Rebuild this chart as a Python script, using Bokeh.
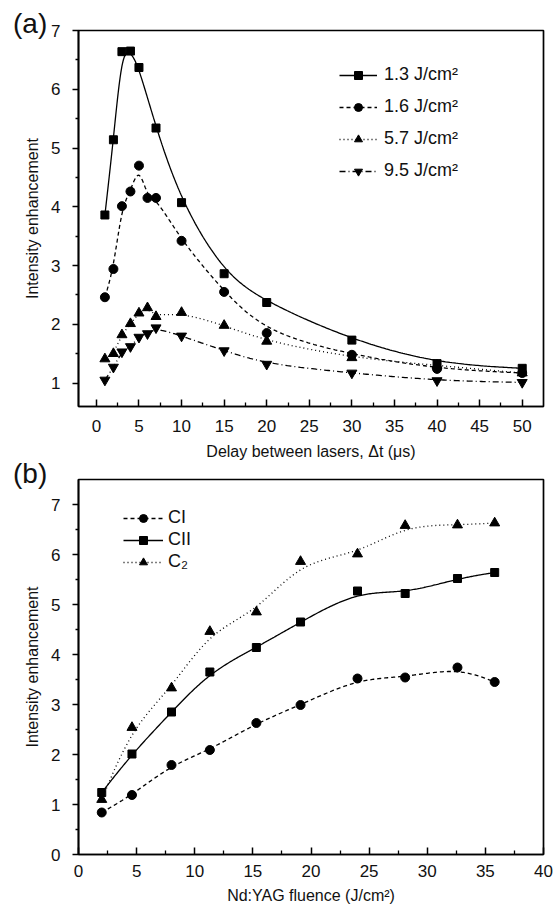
import numpy as np
from bokeh.plotting import figure
from bokeh.layouts import column
from bokeh.models import Range1d, FixedTicker, Legend, LegendItem, Div
from bokeh.embed import file_html
from bokeh.resources import INLINE

FONT = "Liberation Sans"

# ---------------- Panel (a) data ----------------
delay_13 = [1, 2, 3, 4, 5, 7, 10, 15, 20, 30, 40, 50]
enh_13 = [3.86, 5.14, 6.64, 6.65, 6.37, 5.34, 4.07, 2.86, 2.37, 1.73, 1.33, 1.25]
delay_all = [1, 2, 3, 4, 5, 6, 7, 10, 15, 20, 30, 40, 50]
enh_16 = [2.46, 2.94, 4.01, 4.26, 4.70, 4.15, 4.15, 3.42, 2.55, 1.85, 1.48, 1.24, 1.17]
enh_57 = [1.41, 1.50, 1.82, 2.01, 2.19, 2.28, 2.13, 2.20, 1.98, 1.71, 1.43, 1.30, 1.17]
enh_95 = [1.05, 1.27, 1.53, 1.62, 1.78, 1.84, 1.94, 1.80, 1.55, 1.32, 1.17, 1.04, 1.01]
labels_a = ["1.3 J/cm²", "1.6 J/cm²", "5.7 J/cm²", "9.5 J/cm²"]
xticks_a = [0, 5, 10, 15, 20, 25, 30, 35, 40, 45, 50]
yticks_a = [1, 2, 3, 4, 5, 6, 7]

# ---------------- Panel (b) data ----------------
fluence = [2.0, 4.6, 8.0, 11.3, 15.3, 19.1, 24.0, 28.1, 32.6, 35.8]
enh_ci = [0.84, 1.19, 1.79, 2.09, 2.63, 2.99, 3.52, 3.54, 3.74, 3.45]
enh_cii = [1.24, 2.01, 2.85, 3.65, 4.14, 4.65, 5.27, 5.22, 5.52, 5.64]
enh_c2 = [1.10, 2.54, 3.33, 4.46, 4.85, 5.86, 6.01, 6.58, 6.59, 6.63]
labels_b = ["CI", "CII", "C₂"]
xticks_b = [0, 5, 10, 15, 20, 25, 30, 35, 40]
yticks_b = [0, 1, 2, 3, 4, 5, 6, 7]


def bspline(xs, ys, n=40):
    """Uniform cubic B-spline using the data as control points (clamped ends)."""
    P = np.column_stack([xs, ys]).astype(float)
    P = np.vstack([P[0], P[0], P, P[-1], P[-1]])
    pts = []
    nseg = len(P) - 3
    for i in range(nseg):
        t = np.linspace(0, 1, n, endpoint=(i == nseg - 1))
        b0 = (1 - t) ** 3 / 6
        b1 = (3 * t ** 3 - 6 * t ** 2 + 4) / 6
        b2 = (-3 * t ** 3 + 3 * t ** 2 + 3 * t + 1) / 6
        b3 = t ** 3 / 6
        seg = (b0[:, None] * P[i] + b1[:, None] * P[i + 1]
               + b2[:, None] * P[i + 2] + b3[:, None] * P[i + 3])
        pts.append(seg)
    pts = np.vstack(pts)
    return pts[:, 0], pts[:, 1]


def style(p, xticks, xminor, yticks, yminor, tick_standoff, label_standoff):
    p.xaxis.ticker = FixedTicker(ticks=xticks, minor_ticks=xminor)
    p.yaxis.ticker = FixedTicker(ticks=yticks, minor_ticks=yminor)
    p.xgrid.visible = False
    p.ygrid.visible = False
    p.outline_line_color = "black"
    p.outline_line_width = 1.7
    p.background_fill_color = "white"
    p.border_fill_color = "white"
    for ax in (p.xaxis, p.yaxis):
        ax.axis_line_width = 1.7
        ax.axis_line_color = "black"
        ax.major_tick_line_width = 1.5
        ax.minor_tick_line_width = 1.3
        ax.major_tick_line_color = "black"
        ax.minor_tick_line_color = "black"
        ax.major_label_text_font = FONT
        ax.major_label_text_font_size = "17px"
        ax.major_label_text_color = "#111111"
        ax.axis_label_text_font = FONT
        ax.axis_label_text_font_size = "16px"
        ax.axis_label_text_font_style = "normal"
        ax.axis_label_text_color = "#111111"
    p.xaxis.major_tick_in = 7
    p.xaxis.major_tick_out = 0
    p.xaxis.minor_tick_in = 4
    p.xaxis.minor_tick_out = 0
    p.xaxis.major_label_standoff = tick_standoff
    p.xaxis.axis_label_standoff = label_standoff
    p.yaxis.major_tick_in = 0
    p.yaxis.major_tick_out = 6
    p.yaxis.minor_tick_in = 0
    p.yaxis.minor_tick_out = 3
    p.yaxis.major_label_standoff = 12
    p.yaxis.axis_label_standoff = 7


W = 554

# ================= Panel (a) =================
pa = figure(width=W, height=462, output_backend="svg", toolbar_location=None,
            x_range=Range1d(-2.1, 52.5), y_range=Range1d(0.6, 7.0),
            min_border_left=78, min_border_right=11, min_border_top=30,
            min_border_bottom=56,
            x_axis_label="Delay between lasers, \u0394t (\u03bcs)",
            y_axis_label="Intensity enhancement")
style(pa, xticks_a, [2.5 + 5 * i for i in range(10)], yticks_a,
      [0.5 + i for i in range(1, 7)], 13, 8)

series_a = [
    (delay_13, enh_13, "solid", "square", 8),
    (delay_all, enh_16, "4 3", "circle", 9),
    (delay_all, enh_57, "1 3", "triangle", 10),
    (delay_all, enh_95, "6 3 1 3", "inverted_triangle", 10),
]
items_a = []
for (xs, ys, dash, marker, size), lab in zip(series_a, labels_a):
    cx, cy = bspline(xs, ys)
    ln = pa.line(cx, cy, line_color="black", line_width=1.3, line_dash=dash)
    sc = pa.scatter(xs, ys, marker=marker, size=size, fill_color="black",
                    line_color="black")
    items_a.append(LegendItem(label=lab, renderers=[ln, sc]))

leg_a = Legend(items=items_a, location=(261, 225), border_line_alpha=0,
               background_fill_alpha=0, padding=0, margin=0, spacing=11,
               glyph_width=38, glyph_height=20, label_height=20,
               label_standoff=7, label_text_font=FONT,
               label_text_font_size="18px", label_text_color="#111111")
pa.add_layout(leg_a)

# ================= Panel (b) =================
pb = figure(width=W, height=447, output_backend="svg", toolbar_location=None,
            x_range=Range1d(0, 40), y_range=Range1d(0, 7.5),
            min_border_left=78, min_border_right=11, min_border_top=17,
            min_border_bottom=55,
            x_axis_label="Nd:YAG fluence (J/cm\u00b2)",
            y_axis_label="Intensity enhancement")
style(pb, xticks_b, [2.5 + 5 * i for i in range(8)], yticks_b,
      [0.5 + i for i in range(7)], 10, 7)

series_b = [
    (enh_ci, "4 3", "circle", 9),
    (enh_cii, "solid", "square", 8),
    (enh_c2, "1 3", "triangle", 10),
]
items_b = []
for (ys, dash, marker, size), lab in zip(series_b, labels_b):
    cx, cy = bspline(fluence, ys)
    ln = pb.line(cx, cy, line_color="black", line_width=1.3, line_dash=dash)
    sc = pb.scatter(fluence, ys, marker=marker, size=size, fill_color="black",
                    line_color="black")
    items_b.append(LegendItem(label=lab, renderers=[ln, sc]))

leg_b = Legend(items=items_b, location=(45, 282), border_line_alpha=0,
               background_fill_alpha=0, padding=0, margin=0, spacing=1,
               glyph_width=40, glyph_height=20, label_height=20,
               label_standoff=5, label_text_font=FONT,
               label_text_font_size="18px", label_text_color="#111111")
pb.add_layout(leg_b)


def panel_tag(text, top):
    return Div(text=text, styles={
        "position": "absolute", "left": "8px", "top": f"{top}px",
        "font-family": FONT, "font-size": "28px", "line-height": "1",
        "color": "#111111", "z-index": "10"})


label_a = panel_tag("(a)", 5)
label_b = panel_tag("(b)", 455)

layout = column(pa, pb, label_a, label_b, spacing=0)
open("out.html", "w").write(file_html(layout, INLINE))
